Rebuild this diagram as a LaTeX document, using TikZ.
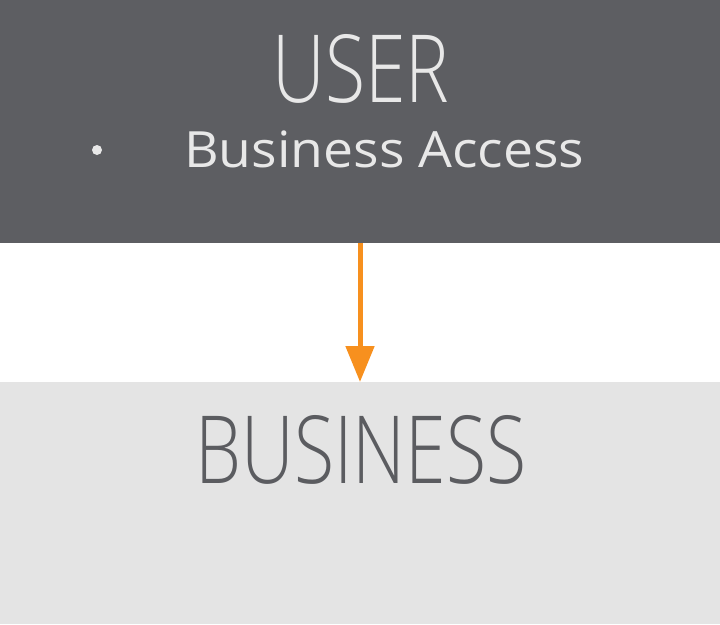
\documentclass[tikz,border=0pt]{standalone}
\usepackage{fontspec}
\setmainfont{Open Sans}
\newfontfamily\headfont[FakeStretch=0.78]{Open Sans Light}
\newfontfamily\bodyfont[FakeStretch=1.07]{Open Sans}
\usetikzlibrary{arrows.meta}
\definecolor{darkbox}{HTML}{5D5E62}
\definecolor{lightbox}{HTML}{E4E4E4}
\definecolor{lighttext}{HTML}{E8E8E8}
\definecolor{headdark}{HTML}{5B5C60}
\definecolor{arroworange}{HTML}{F7901E}
\tikzset{
  panel/.style={inner sep=0pt, outer sep=0pt, minimum width=720pt},
  headtext/.style={font=\headfont\fontsize{94}{94}\selectfont, inner sep=0pt, anchor=base},
  bodytext/.style={font=\bodyfont\fontsize{50}{50}\selectfont, inner sep=0pt, anchor=base},
}
\begin{document}
\begin{tikzpicture}[x=1pt,y=-1pt]
\useasboundingbox (0,0) rectangle (720,624);
\node[panel, fill=darkbox, minimum height=243pt, anchor=north west] (user) at (0,0) {};
\node[panel, fill=lightbox, minimum height=242pt, anchor=north west] (business) at (0,382) {};
\node[headtext, text=lighttext] (usert) at (361,102) {USER};
\node[bodytext, text=lighttext, anchor=base west] (access) at (184,167.5) {Business Access};
\node[circle, fill=lighttext, inner sep=0pt, minimum size=10pt] (bullet) at (97,150) {};
\node[headtext, text=headdark] (businesst) at (361,483) {BUSINESS};
\draw[arroworange, line width=5pt, -{Triangle[length=36pt, width=28pt]}] (user.south -| 360,0) -- (business.north -| 360,0);
\end{tikzpicture}
\end{document}
